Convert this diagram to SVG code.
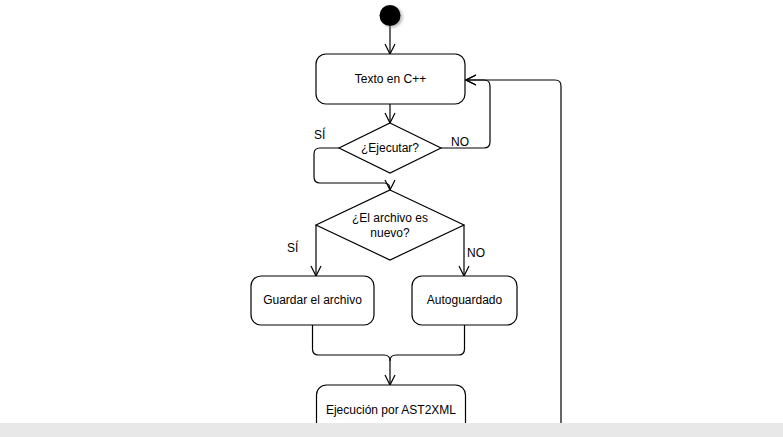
<svg xmlns="http://www.w3.org/2000/svg" width="783" height="437" viewBox="0 0 783 437">
<style>
.n{fill:#fff;stroke:#000;stroke-width:1.2}
.c{fill:none;stroke:#000;stroke-width:1.2;stroke-linejoin:round}
text{font-family:"Liberation Sans",Arial,sans-serif;font-size:12px;fill:#000}
.m{text-anchor:middle}
</style>
<defs>
<marker id="a" viewBox="0 0 12 12" refX="11" refY="6" markerWidth="12" markerHeight="12" markerUnits="userSpaceOnUse" orient="auto">
<path d="M1,1 L11,6 L1,11" fill="none" stroke="#000" stroke-width="1.2"/>
</marker>
<filter id="sh" x="-50%" y="-50%" width="200%" height="200%">
<feGaussianBlur stdDeviation="1.5"/>
</filter>
</defs>
<rect width="783" height="437" fill="#fff"/>
<g id="connectors">
<path class="c" d="M390,26 V54" marker-end="url(#a)"/>
<path class="c" d="M390,104 V123" marker-end="url(#a)"/>
<path class="c" d="M441,148 H484 Q490,148 490,142 V86 Q490,80 484,80 H466" marker-end="url(#a)"/>
<path class="c" d="M561,423 V86 Q561,80 555,80 H466" marker-end="url(#a)"/>
<path class="c" d="M339,148 H320 Q314,148 314,154 V177 Q314,183 320,183 H384 Q390,183 390,189 V190" marker-end="url(#a)"/>
<path class="c" d="M316,225 V276" marker-end="url(#a)"/>
<path class="c" d="M464,225 V276" marker-end="url(#a)"/>
<path class="c" d="M312.5,325 V349 Q312.5,355 318.5,355 H384 Q390,355 390,361 V385" marker-end="url(#a)"/>
<path class="c" d="M464.5,325 V349 Q464.5,355 458.5,355 H396 Q390,355 390,361"/>
<text x="314" y="139">SÍ</text>
<text x="451" y="146">NO</text>
<text x="287" y="252">SÍ</text>
<text x="467" y="257">NO</text>
</g>
<g id="start">
<circle cx="392" cy="17" r="10.5" fill="#888" opacity="0.6" filter="url(#sh)"/>
<circle cx="390" cy="15.5" r="10.5" fill="#000"/>
</g>
<g id="texto">
<rect class="n" x="316" y="54" width="149" height="50" rx="10"/>
<text class="m" x="390.5" y="83">Texto en C++</text>
</g>
<g id="ejecutar">
<polygon class="n" points="390,123 441,148 390,173 339,148"/>
<text class="m" x="390" y="152">¿Ejecutar?</text>
</g>
<g id="nuevo">
<polygon class="n" points="390,190 464,225 390,260 316,225"/>
<text class="m" x="390" y="222">¿El archivo es</text>
<text class="m" x="390" y="237">nuevo?</text>
</g>
<g id="guardar">
<rect class="n" x="251" y="276" width="123" height="49" rx="10"/>
<text class="m" x="312.5" y="304">Guardar el archivo</text>
</g>
<g id="auto">
<rect class="n" x="412" y="276" width="105" height="49" rx="10"/>
<text class="m" x="464.5" y="304">Autoguardado</text>
</g>
<g id="ejecucion">
<rect class="n" x="316.5" y="385" width="149" height="50" rx="10"/>
<text class="m" x="391" y="414">Ejecución por AST2XML</text>
</g>
<rect x="0" y="423" width="783" height="14" fill="#e8e8e8"/>
</svg>
